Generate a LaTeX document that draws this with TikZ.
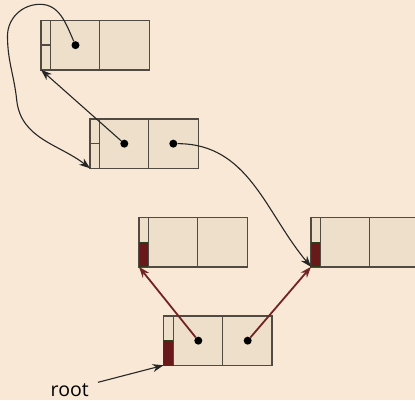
\documentclass[tikz,border=0pt]{standalone}
\usepackage{fontspec}
\setsansfont{Open Sans}
\usetikzlibrary{arrows.meta,calc}
\definecolor{bg}{RGB}{248,232,213}
\definecolor{cellfill}{RGB}{237,223,201}
\definecolor{cellline}{RGB}{80,74,66}
\definecolor{darkred}{RGB}{105,25,25}
\definecolor{redline}{RGB}{115,35,35}
\definecolor{greenedge}{RGB}{45,62,25}
\begin{document}
\begin{tikzpicture}[x=1pt,y=1pt,
  record/.style={draw=cellline, fill=cellfill, line width=1.4pt, rectangle, anchor=south west,
    minimum width=108.5pt, minimum height=49.3pt, inner sep=0pt, outer sep=0pt},
  divider/.style={draw=cellline, line width=1.4pt},
  redbox/.style={fill=darkred, draw=greenedge, line width=1pt, rectangle, anchor=south west,
    minimum width=9.7pt, minimum height=24.65pt, inner sep=0pt, outer sep=0pt},
  ptr/.style={circle, fill=black, inner sep=0pt, minimum size=8pt},
  blk/.style={-{Stealth[length=11pt,width=8pt]}, line width=1.1pt, draw=black!85},
  redarr/.style={-{Stealth[length=11pt,width=8pt]}, line width=1.8pt, draw=redline, fill=redline},
]
\fill[bg] (0,0) rectangle (415,400);
\useasboundingbox (0,0) rectangle (415,400);
\clip (0,0) rectangle (415,400);

% records
\node[record] (n1) at (41,330.2) {};
\node[record] (n2) at (90,231.7) {};
\node[record] (n3) at (139,133.2) {};
\node[record] (n4) at (311,133.2) {};
\node[record] (n5) at (163.5,34.7) {};

% red markers
\node[redbox] (n3r) at (n3.south west) {};
\node[redbox] (n4r) at (n4.south west) {};
\node[redbox] (n5r) at (n5.south west) {};

% dividers
\foreach \r in {n1,n2,n3,n4,n5}{
  \draw[divider] ($(\r.south west)+(9.7,0)$) -- ($(\r.north west)+(9.7,0)$);
  \draw[divider] ($(\r.south west)+(58.7,0)$) -- ($(\r.north west)+(58.7,0)$);
}
\draw[divider] (n1.west) -- ++(9.7,0);
\draw[divider] (n2.west) -- ++(9.7,0);

% pointers
\node[ptr] (n1a) at ($(n1.south west)+(34.5,24.65)$) {};
\node[ptr] (n2a) at ($(n2.south west)+(34.3,24.65)$) {};
\node[ptr] (n2b) at ($(n2.south west)+(83.3,24.65)$) {};
\node[ptr] (n5a) at ($(n5.south west)+(34.8,24.65)$) {};
\node[ptr] (n5b) at ($(n5.south west)+(84.2,24.65)$) {};

% black connectors
\draw[blk] (n2a) -- (n1.south west);
\coordinate (c1) at (40,395.7);
\coordinate (c2) at (7.5,364);
\coordinate (c3) at (16.7,300);
\draw[blk] (n1a) to[out=114,in=0] (c1) to[out=180,in=90] (c2)
  to[out=-90,in=96] (c3) to[out=-84,in=142] (n2.south west);
\draw[blk] (n2b) to[out=0,in=130] (n4.south west);

% red connectors
\draw[redarr] (n5a) -- (n3.south west);
\draw[redarr] (n5b) -- (n4.south west);

% root
\node[font=\sffamily\fontsize{19.5}{20}\selectfont, anchor=base west, inner sep=0pt] (rootlbl) at (50.5,3.3) {root};
\coordinate (rootstart) at (98,17.7);
\draw[blk] (rootstart) -- (n5.south west);
\end{tikzpicture}
\end{document}
